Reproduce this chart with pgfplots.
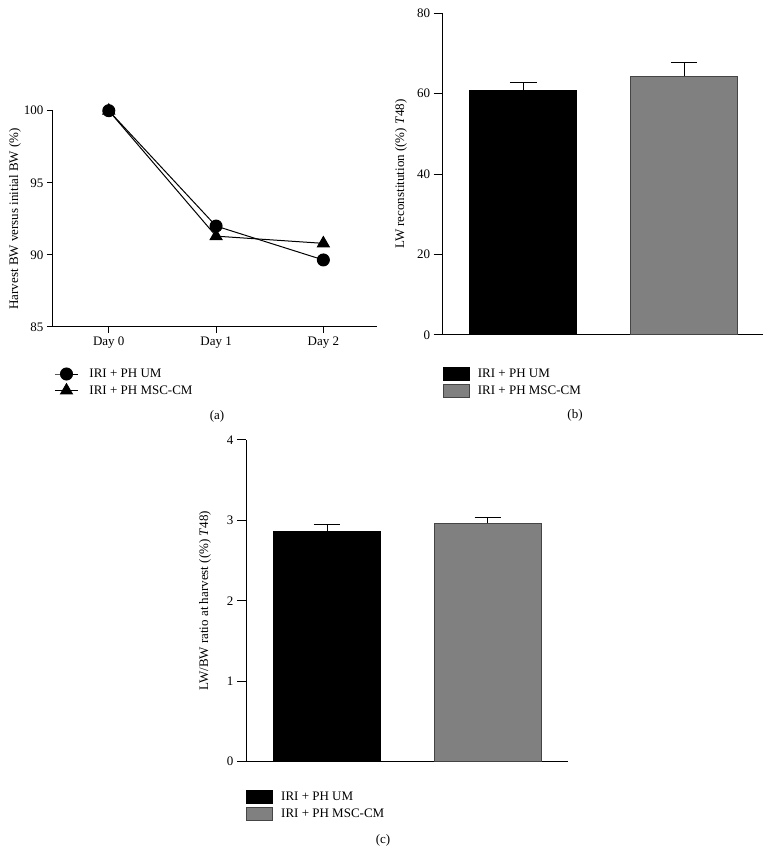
\documentclass[border=0pt]{standalone}
\usepackage{fontspec}
\setmainfont{Liberation Serif}
\usepackage{pgfplots}
\pgfplotsset{compat=1.18}
\definecolor{bargray}{HTML}{808080}
\definecolor{edgegray}{HTML}{454545}
\pgfdeclareplotmark{halfcap}{%
  \pgfpathmoveto{\pgfpointorigin}%
  \pgfpathlineto{\pgfqpoint{0pt}{-\pgfplotmarksize}}%
  \pgfusepathqstroke}
\newcommand{\fsz}{\fontsize{13}{15.6}\selectfont}
\pgfplotsset{
  common/.style={
    scale only axis, anchor=south west, clip=false,
    axis x line*=bottom, axis y line*=left,
    axis line style={-, line width=1pt, black},
    tick align=outside, tick style={black, line width=1pt},
    /pgf/number format/assume math mode=true,
    tick label style={font=\fsz},
    label style={font=\fsz},
    legend style={draw=none, fill=none, inner sep=0pt, anchor=north west,
      font=\fsz, row sep=2.5pt, column sep=6pt},
    legend cell align=left,
  },
  barleg/.style={legend image code/.code={\draw[##1, line width=1pt] (0pt,-6.75pt) rectangle (26pt,6.75pt);}},
  ebar/.style={error bars/.cd, y dir=plus, y explicit, error mark=halfcap,
  error bar style={black, line width=1pt},
  error mark options={black, line width=1pt, mark size=26.7pt}},
}
\begin{document}
\begin{tikzpicture}[x=1pt,y=1pt]
\path (0,0) rectangle (772,854);
% (a)
\begin{axis}[common, at={(53pt,527pt)}, width=324pt, height=216.3pt,
  xmin=-0.52, xmax=2.5, ymin=85, ymax=100,
  xtick={0,1,2}, xticklabels={Day 0, Day 1, Day 2},
  ytick={85,90,95,100}, major tick length=6pt,
  ylabel={Harvest BW versus initial BW (\%)},
  ylabel style={at={(axis description cs:-0.117,0.5)}, anchor=center},
  legend style={at={(axis description cs:0.004,-0.184)}, column sep=9pt},
  legend image code/.code={\draw[mark repeat=2,mark phase=2,#1] plot coordinates {(0pt,0pt)(11.5pt,0pt)(23pt,0pt)};},
]
\addplot[black, line width=1pt, mark=*, mark size=6pt] coordinates {(0,100)(1,92.0)(2,89.65)};
\addplot[black, line width=1pt, mark=triangle*, mark size=6.8pt] coordinates {(0,100)(1,91.3)(2,90.8)};
\legend{IRI + PH UM, IRI + PH MSC-CM}
\end{axis}
% (b)
\begin{axis}[common, barleg, at={(442.7pt,519pt)}, width=320.3pt, height=321.7pt,
  xmin=0.5, xmax=2.49, ymin=0, ymax=80,
  xtick=\empty, ytick={0,20,40,60,80}, major tick length=9pt,
  ylabel={LW reconstitution ((\%) \textit{T}48)},
  ylabel style={at={(axis description cs:-0.13,0.5)}, anchor=center},
  legend style={at={(axis description cs:0,-0.098)}},
]
\addplot[ybar, bar width=0.668, bar shift=0pt, fill=black, draw=black, line width=1pt, ebar]
  coordinates {(1,60.75) +- (0,2.09)};
\addplot[ybar, bar width=0.668, bar shift=0pt, fill=bargray, draw=edgegray, line width=1pt, ebar]
  coordinates {(2,64.4) +- (0,3.4)};
\legend{IRI + PH UM, IRI + PH MSC-CM}
\end{axis}
% (c)
\begin{axis}[common, barleg, at={(246pt,92.3pt)}, width=322.3pt, height=321.7pt,
  xmin=0.496, xmax=2.5, ymin=0, ymax=4,
  xtick=\empty, ytick={0,1,2,3,4}, major tick length=9pt,
  ylabel={LW/BW ratio at harvest ((\%) \textit{T}48)},
  ylabel style={at={(axis description cs:-0.127,0.5)}, anchor=center},
  legend style={at={(axis description cs:0,-0.087)}},
]
\addplot[ybar, bar width=0.668, bar shift=0pt, fill=black, draw=black, line width=1pt, ebar]
  coordinates {(1,2.86) +- (0,0.087)};
\addplot[ybar, bar width=0.668, bar shift=0pt, fill=bargray, draw=edgegray, line width=1pt, ebar]
  coordinates {(2,2.964) +- (0,0.075)};
\legend{IRI + PH UM, IRI + PH MSC-CM}
\end{axis}
\node[font=\fsz] at (217,438) {(a)};
\node[font=\fsz] at (575,439) {(b)};
\node[font=\fsz] at (383,14) {(c)};
\end{tikzpicture}
\end{document}
